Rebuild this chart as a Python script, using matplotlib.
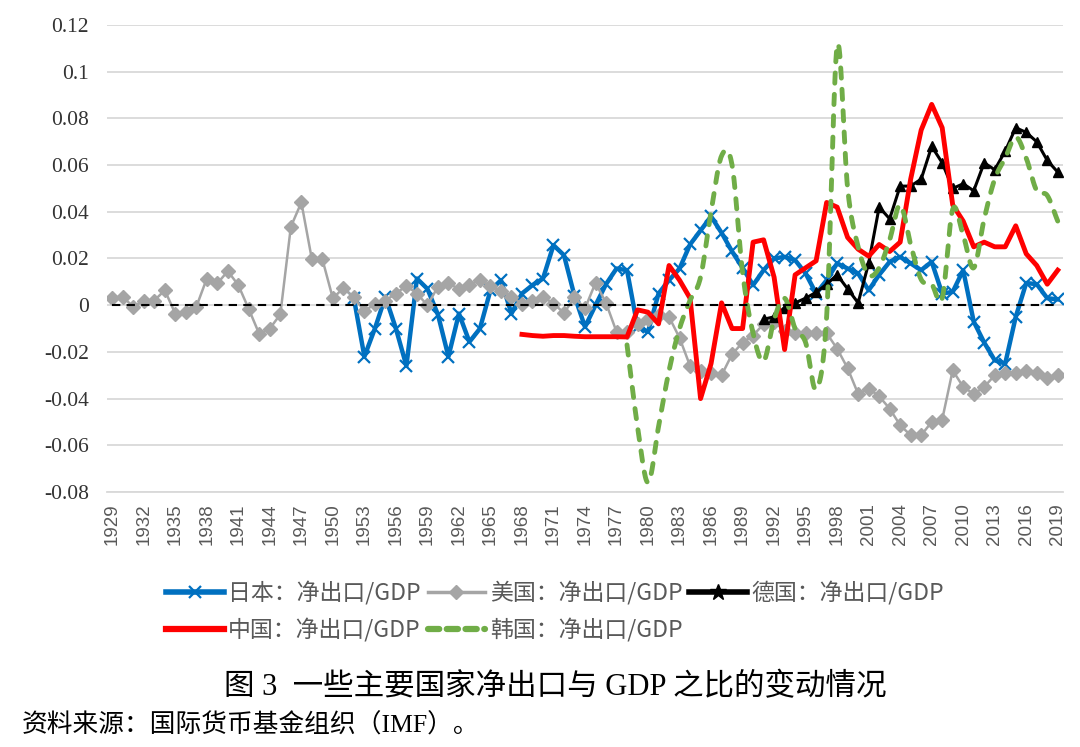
import numpy as np
import matplotlib
matplotlib.use('Agg')
import matplotlib.pyplot as plt
from matplotlib.font_manager import FontProperties
from matplotlib.lines import Line2D

# ---- data (net exports / GDP) ----
us_years = list(range(1929, 2020))
us = [0.0031, 0.0036, -0.0007, 0.002, 0.002, 0.0064, -0.0036, -0.003, -0.0007, 0.0114,
      0.0093, 0.0146, 0.0086, -0.0017, -0.0124, -0.010, -0.0039, 0.0336, 0.044, 0.0197,
      0.0197, 0.0029, 0.0074, 0.0033, -0.0024, 0.0004, 0.002, 0.005, 0.0083, 0.005,
      0.000, 0.0079, 0.0093, 0.007, 0.0086, 0.011, 0.0081, 0.006, 0.0036, 0.0007,
      0.002, 0.0036, 0.0007, -0.0033, 0.0033, -0.0014, 0.0096, 0.001, -0.0114, -0.0114,
      -0.008, -0.006, -0.004, -0.005, -0.014, -0.026, -0.028, -0.029, -0.030, -0.021,
      -0.016, -0.013, -0.008, -0.007, -0.011, -0.012, -0.012, -0.012, -0.012, -0.0186,
      -0.027, -0.038, -0.0357, -0.039, -0.0443, -0.0514, -0.0557, -0.0557, -0.050, -0.049,
      -0.0279, -0.035, -0.038, -0.035, -0.030, -0.029, -0.029, -0.028, -0.029, -0.031,
      -0.030]

jp_years = list(range(1952, 2020))
jp = [0.003, -0.022, -0.010, 0.0036, -0.010, -0.026, 0.0114, 0.007, -0.004, -0.022,
      -0.0036, -0.0157, -0.010, 0.0064, 0.0107, -0.0036, 0.005, 0.0086, 0.0114, 0.0257,
      0.0214, 0.004, -0.0093, 0.0, 0.009, 0.0157, 0.015, -0.0093, -0.0114, 0.005,
      0.0107, 0.0157, 0.026, 0.032, 0.038, 0.031, 0.023, 0.016, 0.0086, 0.015,
      0.020, 0.0207, 0.0193, 0.0136, 0.005, 0.0107, 0.0179, 0.0157, 0.0136, 0.0064,
      0.013, 0.0186, 0.0207, 0.0179, 0.015, 0.0186, 0.005, 0.0057, 0.015, -0.007,
      -0.016, -0.0236, -0.025, -0.005, 0.0095, 0.009, 0.003, 0.0025]

de_years = list(range(1991, 2020))
de = [-0.006, -0.005, -0.001, 0.001, 0.003, 0.0055, 0.009, 0.013, 0.007, 0.001,
      0.018, 0.042, 0.037, 0.051, 0.051, 0.054, 0.068, 0.061, 0.050, 0.052,
      0.049, 0.061, 0.058, 0.066, 0.076, 0.074, 0.070, 0.062, 0.057]

cn_years = list(range(1968, 2020))
cn = [-0.0125, -0.013, -0.0133, -0.013, -0.013, -0.0133, -0.0135, -0.0135, -0.0135, -0.0135,
      -0.0136, -0.002, -0.003, -0.008, 0.017, 0.0107, 0.003, -0.040, -0.025, 0.001,
      -0.010, -0.010, 0.027, 0.028, 0.012, -0.019, 0.013, 0.016, 0.019, 0.044,
      0.042, 0.029, 0.024, 0.021, 0.026, 0.023, 0.027, 0.054, 0.075, 0.086,
      0.076, 0.043, 0.036, 0.025, 0.027, 0.025, 0.025, 0.034, 0.022, 0.017,
      0.009, 0.015]

kr_years = list(range(1978, 2020))
kr = [-0.017, -0.052, -0.076, -0.052, -0.028, -0.010, 0.002, 0.012, 0.040, 0.064,
      0.060, 0.014, -0.012, -0.024, -0.006, 0.003, -0.010, -0.016, -0.036, -0.005,
      0.111, 0.050, 0.025, 0.013, 0.016, 0.028, 0.043, 0.026, 0.011, 0.009,
      0.003, 0.041, 0.030, 0.016, 0.037, 0.054, 0.063, 0.072, 0.063, 0.049,
      0.047, 0.036]

labels = ['日本：净出口/GDP', '美国：净出口/GDP', '德国：净出口/GDP',
          '中国：净出口/GDP', '韩国：净出口/GDP']
y_ticks = [0.12, 0.1, 0.08, 0.06, 0.04, 0.02, 0, -0.02, -0.04, -0.06, -0.08]
y_tick_labels = ['0.12', '0.1', '0.08', '0.06', '0.04', '0.02', '0',
                 '-0.02', '-0.04', '-0.06', '-0.08']
x_ticks = list(range(1929, 2020, 3))

GRID = '#D9D9D9'
CJK = ['Noto Sans CJK SC', 'DejaVu Sans']
SERIF_CJK = ['Liberation Serif', 'Noto Sans CJK SC']


def smooth(x, y, n=16):
    """Catmull-Rom curve through the points (like Excel's smoothed line)."""
    x = np.asarray(x, float)
    y = np.asarray(y, float)
    px = np.concatenate([[2 * x[0] - x[1]], x, [2 * x[-1] - x[-2]]])
    py = np.concatenate([[2 * y[0] - y[1]], y, [2 * y[-1] - y[-2]]])
    t = np.linspace(0, 1, n, endpoint=False)
    xs, ys = [], []
    for i in range(1, len(px) - 2):
        for p, out in ((px, xs), (py, ys)):
            p0, p1, p2, p3 = p[i - 1], p[i], p[i + 1], p[i + 2]
            out.append(0.5 * (2 * p1 + (-p0 + p2) * t
                              + (2 * p0 - 5 * p1 + 4 * p2 - p3) * t ** 2
                              + (-p0 + 3 * p1 - 3 * p2 + p3) * t ** 3))
    xs.append([x[-1]])
    ys.append([y[-1]])
    return np.concatenate(xs), np.concatenate(ys)


fig = plt.figure(figsize=(10.8, 7.47), dpi=100)
ax = fig.add_axes([107 / 1080, 1 - 492 / 747, 956 / 1080, 467 / 747])

ax.plot(jp_years, jp, color='#0070C0', lw=3.2, marker='x', ms=8.5, mew=1.6,
        solid_joinstyle='round', zorder=3)
ax.plot(us_years, us, color='#A5A5A5', lw=1.8, marker='D', ms=7, zorder=3)
ax.plot(de_years, de, color='black', lw=2.2, marker='^', ms=7.5, zorder=4)
ax.plot(cn_years, cn, color='#FF0000', lw=3.5, solid_joinstyle='round', zorder=5)
kx, ky = smooth(kr_years, kr)
ax.plot(kx, ky, color='#70AD47', lw=3.5, ls=(0, (2.1, 2.3)),
        dash_capstyle='round', zorder=6)
ax.plot(us_years, [0] * len(us_years), color='black', lw=1.5, ls=(0, (4, 3)), zorder=7)

ax.set_xlim(1928.5, 2019.5)
ax.set_ylim(-0.08, 0.12)
ax.set_yticks(y_ticks)
ax.set_yticklabels(y_tick_labels, family='Liberation Serif', fontsize=15.5, color='#333333')
ax.set_xticks(x_ticks)
ax.set_xticklabels([str(y) for y in x_ticks], rotation=90, family='Liberation Sans',
                   fontsize=13.5, color='#595959')
ax.tick_params(axis='y', length=0, pad=13)
ax.tick_params(axis='x', length=0, pad=8)
ax.grid(axis='y', color=GRID, lw=1.3)
ax.set_axisbelow(True)
for side in ('left', 'right', 'top'):
    ax.spines[side].set_visible(False)
ax.spines['bottom'].set_color(GRID)
ax.spines['bottom'].set_linewidth(1.3)

handles = [
    Line2D([], [], color='#0070C0', lw=4, marker='x', ms=8.5, mew=1.6),
    Line2D([], [], color='#A5A5A5', lw=2.5, marker='D', ms=7),
    Line2D([], [], color='black', lw=4, marker='*', ms=12),
    Line2D([], [], color='#FF0000', lw=4.5),
    Line2D([], [], color='#70AD47', lw=4.5, ls=(0, (1.8, 1.2)), dash_capstyle='round'),
]
order = [0, 3, 1, 4, 2]
fig.legend([handles[i] for i in order], [labels[i] for i in order], ncol=3,
           loc='upper left', bbox_to_anchor=(155 / 1080, 1 - 570 / 747),
           frameon=False, handlelength=2.5, handletextpad=0.2, columnspacing=0.3,
           labelspacing=0.55, borderpad=0, labelcolor='#595959',
           prop=FontProperties(family=CJK, size=16.5))

fig.text(555 / 1080, 1 - 688 / 747, '图 3  一些主要国家净出口与 GDP 之比的变动情况',
         ha='center', va='center', fontsize=22, family=SERIF_CJK, color='black')
fig.text(22 / 1080, 1 - 725 / 747, '资料来源：国际货币基金组织（IMF）。',
         ha='left', va='center', fontsize=18.5, family=SERIF_CJK, color='black')

fig.savefig('out.png', dpi=100, facecolor='white')
